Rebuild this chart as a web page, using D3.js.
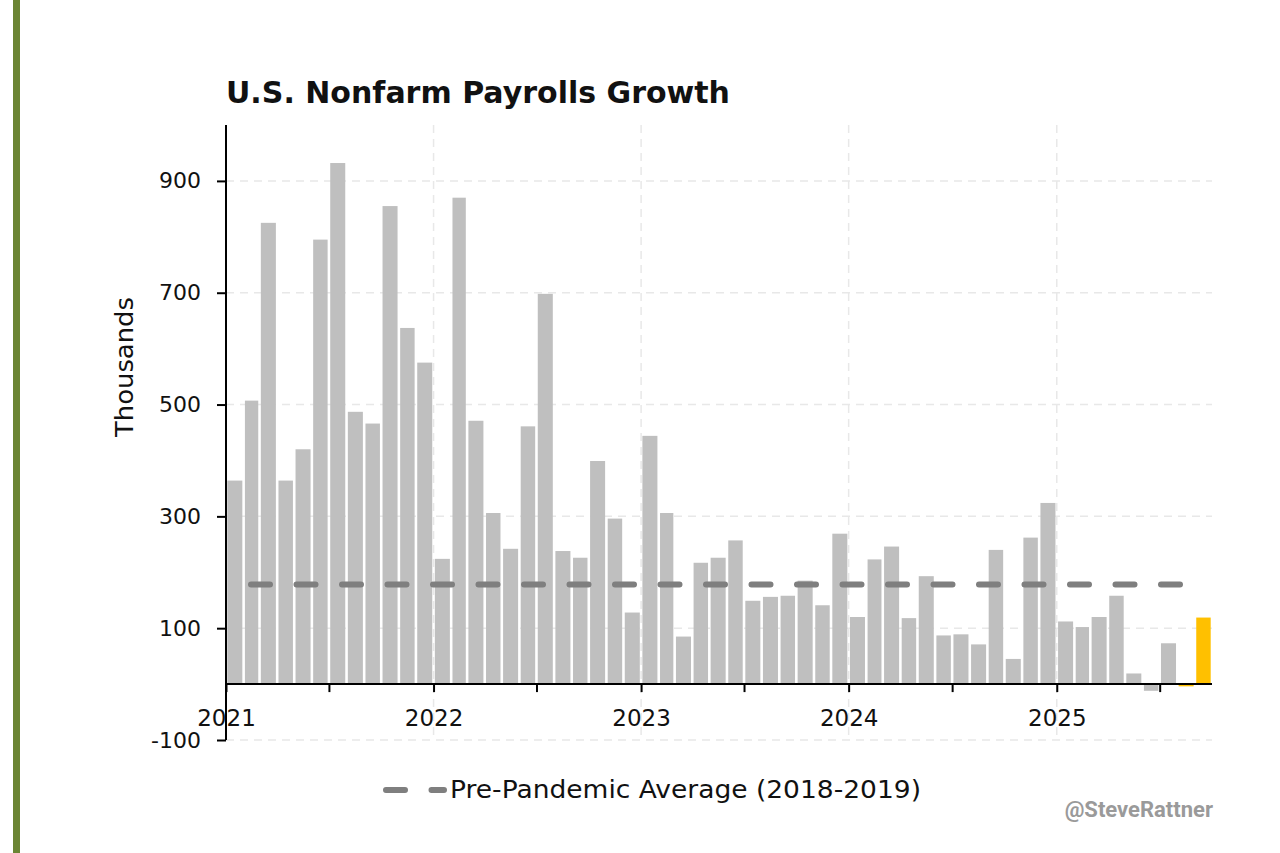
<!DOCTYPE html>
<html>
<head>
<meta charset="utf-8">
<script src="https://cdn.jsdelivr.net/npm/d3@7"></script>
<style>
  body { margin: 0; background: #fff; }
  svg { display: block; font-family: "DejaVu Sans", sans-serif; }
</style>
</head>
<body>
<div id="grafico"></div>
<script>
// meses (primer dia) y variacion de nominas en miles
const meses = [
  "2021-01","2021-02","2021-03","2021-04","2021-05","2021-06","2021-07","2021-08","2021-09","2021-10","2021-11","2021-12",
  "2022-01","2022-02","2022-03","2022-04","2022-05","2022-06","2022-07","2022-08","2022-09","2022-10","2022-11","2022-12",
  "2023-01","2023-02","2023-03","2023-04","2023-05","2023-06","2023-07","2023-08","2023-09","2023-10","2023-11","2023-12",
  "2024-01","2024-02","2024-03","2024-04","2024-05","2024-06","2024-07","2024-08","2024-09","2024-10","2024-11","2024-12",
  "2025-01","2025-02","2025-03","2025-04","2025-05","2025-06","2025-07","2025-08","2025-09"
];
const nominas = [
  364, 507, 825, 364, 420, 795, 932, 487, 466, 855, 637, 575,
  224, 870, 471, 306, 242, 461, 698, 238, 226, 399, 296, 128,
  444, 306, 85, 217, 226, 257, 149, 156, 158, 185, 141, 269,
  120, 223, 246, 118, 193, 87, 89, 71, 240, 45, 262, 324,
  112, 102, 120, 158, 19, -12, 73, -4, 119
];
const mesesDestacados = ["2025-08", "2025-09"];
const promedioPrePandemia = 178;
const ticksY = [-100, 100, 300, 500, 700, 900];
const aniosEtiqueta = [2021, 2022, 2023, 2024, 2025];

const parseMes = d3.timeParse("%Y-%m");
const datos = meses.map((m, i) => ({ mes: m, fecha: parseMes(m), valor: nominas[i] }));

const W = 1280, H = 853;
const margin = { top: 125, right: 68, bottom: 113, left: 226 };
const width = W - margin.left - margin.right;
const height = H - margin.top - margin.bottom;

const svg = d3.select("#grafico")
  .append("svg")
  .attr("width", W)
  .attr("height", H);

// barra verde lateral
svg.append("rect")
  .attr("x", 13).attr("y", 0)
  .attr("width", 7).attr("height", H)
  .attr("fill", "#6b8534");

const g = svg.append("g")
  .attr("transform", `translate(${margin.left}, ${margin.top})`);

const x = d3.scaleTime()
  .domain([new Date(2021, 0, 1), new Date(2025, 9, 1)])
  .range([0, width]);

const y = d3.scaleLinear()
  .domain([-100, 1000])
  .range([height, 0]);

// rejilla
g.selectAll(".grid-h")
  .data(ticksY)
  .enter()
  .append("line")
  .attr("x1", 0).attr("x2", width)
  .attr("y1", d => y(d)).attr("y2", d => y(d))
  .attr("stroke", "#e8e8e8")
  .attr("stroke-width", 1.5)
  .attr("stroke-dasharray", "8,6");

g.selectAll(".grid-v")
  .data(aniosEtiqueta.slice(1))
  .enter()
  .append("line")
  .attr("x1", d => x(new Date(d, 0, 1))).attr("x2", d => x(new Date(d, 0, 1)))
  .attr("y1", 0).attr("y2", height)
  .attr("stroke", "#e8e8e8")
  .attr("stroke-width", 1.5)
  .attr("stroke-dasharray", "8,6");

// barras
g.selectAll(".bar")
  .data(datos)
  .enter()
  .append("rect")
  .attr("class", "bar")
  .attr("x", d => x(d.fecha) + 1.3)
  .attr("width", d => x(d3.timeMonth.offset(d.fecha, 1)) - x(d.fecha) - 2.6)
  .attr("y", d => y(Math.max(0, d.valor)))
  .attr("height", d => Math.abs(y(d.valor) - y(0)))
  .attr("fill", d => mesesDestacados.includes(d.mes) ? "#ffc000" : "#bfbfbf");

// promedio pre-pandemia
g.append("line")
  .attr("x1", 0).attr("x2", x(new Date(2025, 8, 1)) - 6)
  .attr("y1", y(promedioPrePandemia)).attr("y2", y(promedioPrePandemia))
  .attr("stroke", "#7f7f7f")
  .attr("stroke-width", 6)
  .attr("stroke-linecap", "round")
  .attr("stroke-dasharray", "19,26.5")
  .attr("stroke-dashoffset", 20.5);

// eje x
const xAxis = g.append("g")
  .attr("transform", `translate(0, ${y(0)})`)
  .call(d3.axisBottom(x)
    .tickValues(d3.timeMonth.every(6).range(new Date(2021, 0, 1), new Date(2025, 9, 1)))
    .tickSize(8)
    .tickPadding(18)
    .tickFormat(d => d.getMonth() === 0 ? d3.timeFormat("%Y")(d) : ""));
xAxis.select(".domain")
  .attr("stroke", "#000").attr("stroke-width", 2)
  .attr("d", `M0,0H${width}`);
xAxis.selectAll(".tick line").attr("stroke", "#000").attr("stroke-width", 2);
xAxis.selectAll("text")
  .attr("font-size", "23px")
  .attr("fill", "#111")
  .attr("font-family", "DejaVu Sans, sans-serif");

// eje y
const yAxis = g.append("g")
  .call(d3.axisLeft(y)
    .tickValues(ticksY)
    .tickSize(9)
    .tickPadding(16)
    .tickFormat(d => String(d)));
yAxis.select(".domain")
  .attr("stroke", "#000").attr("stroke-width", 2)
  .attr("d", `M0,0V${height}`);
yAxis.selectAll(".tick line").attr("stroke", "#000").attr("stroke-width", 2);
yAxis.selectAll("text")
  .attr("font-size", "22px")
  .attr("fill", "#111")
  .attr("font-family", "DejaVu Sans, sans-serif");

g.append("text")
  .attr("transform", `translate(${133 - margin.left}, ${367 - margin.top}) rotate(-90)`)
  .attr("text-anchor", "middle")
  .attr("font-size", "25px")
  .attr("fill", "#111")
  .attr("textLength", 140)
  .attr("lengthAdjust", "spacingAndGlyphs")
  .text("Thousands");

// titulo
svg.append("text")
  .attr("x", margin.left)
  .attr("y", 103)
  .attr("font-size", "31px")
  .attr("font-weight", "bold")
  .attr("fill", "#111")
  .attr("textLength", 504)
  .attr("lengthAdjust", "spacingAndGlyphs")
  .text("U.S. Nonfarm Payrolls Growth");

// leyenda
svg.append("line")
  .attr("x1", 386).attr("x2", 444)
  .attr("y1", 790).attr("y2", 790)
  .attr("stroke", "#7f7f7f")
  .attr("stroke-width", 6)
  .attr("stroke-linecap", "round")
  .attr("stroke-dasharray", "19,26.5");

svg.append("text")
  .attr("x", 450)
  .attr("y", 798)
  .attr("font-size", "24px")
  .attr("fill", "#111")
  .attr("textLength", 471)
  .attr("lengthAdjust", "spacingAndGlyphs")
  .text("Pre-Pandemic Average (2018-2019)");

svg.append("text")
  .attr("x", 1213)
  .attr("y", 817)
  .attr("text-anchor", "end")
  .attr("font-family", "Roboto, sans-serif")
  .attr("font-size", "22px")
  .attr("font-weight", "bold")
  .attr("fill", "#9a9a9a")
  .text("@SteveRattner");
</script>
</body>
</html>
